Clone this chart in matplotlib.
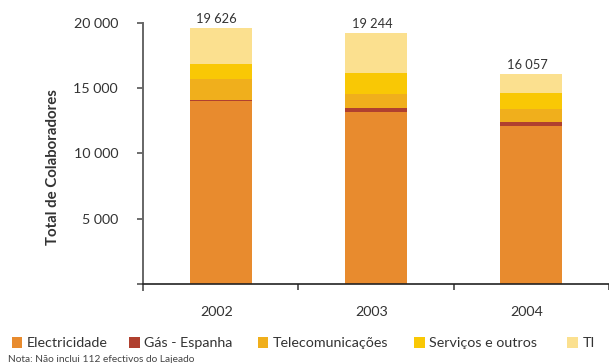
import matplotlib
matplotlib.use("Agg")
import matplotlib.pyplot as plt
from matplotlib.patches import Rectangle
import numpy as np

plt.rcParams['font.family'] = ['Lato', 'DejaVu Sans']

years = ["2002", "2003", "2004"]
totals = [19626, 19244, 16057]
electricidade = [14000, 13150, 12080]
gas_espanha = [80, 310, 310]
telecomunicacoes = [1610, 1080, 1030]
servicos_outros = [1160, 1610, 1230]
ti = [2776, 3094, 1407]

series = [
    ("Electricidade", electricidade, "#E88B2E"),
    ("Gás - Espanha", gas_espanha, "#B0402F"),
    ("Telecomunicações", telecomunicacoes, "#F0AF1C"),
    ("Serviços e outros", servicos_outros, "#F9C805"),
    ("TI", ti, "#FBE08F"),
]
yticks = [5000, 10000, 15000, 20000]
note = "Nota: Não inclui 112 efectivos do Lajeado"

W, H = 609, 363
fig = plt.figure(figsize=(W / 100, H / 100), dpi=100)

def fx(px):
    return px / W

def fy(py):
    return 1 - py / H

ax_left, ax_top, ax_bottom = 143, 22.7, 290
ax = fig.add_axes([fx(ax_left), fy(ax_bottom), 1 - fx(ax_left), (ax_bottom - ax_top) / H])

x = np.arange(len(years))
bottom = np.zeros(len(years))
for name, vals, color in series:
    ax.bar(x, vals, width=0.4, bottom=bottom, color=color, linewidth=0, label=name)
    bottom += np.array(vals)

for xi, tot in zip(x, totals):
    ax.annotate(f"{tot:,}".replace(",", " "), (xi, tot), xytext=(-3, 2),
                textcoords="offset points", ha="center", va="bottom",
                fontsize=9.3, color="#333333")

ax.set_xlim(-0.5, -0.5 + (W - ax_left) / 158)
ax.set_ylim(-460, 20000)

for s in ["top", "right"]:
    ax.spines[s].set_visible(False)
ax.spines["bottom"].set_position(("data", 0))
ax.spines["bottom"].set_color("#222222")
ax.spines["bottom"].set_linewidth(1.2)
ax.spines["left"].set_color("#666666")
ax.spines["left"].set_linewidth(1.4)
ax.spines["left"].set_bounds(-460, 20000)

ax.set_yticks([0] + yticks)
ax.set_yticklabels([""] + [f"{v:,}".replace(",", " ") for v in yticks],
                   fontsize=10.3, color="#333333")
ax.tick_params(axis="y", direction="out", length=4, width=1.2, color="#555555", pad=14)

ax.set_xticks([0.5, 1.5, 2.5])
ax.set_xticklabels([])
ax.tick_params(axis="x", direction="out", length=4.5, width=1.2, color="#444444")
for xi, yr in zip(x, years):
    ax.annotate(yr, (xi, 0), xytext=(-3, -20), textcoords="offset points",
                ha="center", va="center", fontsize=10.3, color="#333333",
                annotation_clip=False)

fig.text(fx(53), fy(167), "Total de Colaboradores", rotation=90, ha="center",
         va="center", fontsize=10.8, fontweight="bold", color="#333333")

# legend row along the bottom
legend_x = [11.7, 129.3, 257.7, 414.3, 567.3]
for (name, _, color), lx in zip(series, legend_x):
    fig.add_artist(Rectangle((fx(lx), fy(348.3)), fx(10.6), (348.3 - 337.3) / H,
                             transform=fig.transFigure, facecolor=color,
                             edgecolor="none"))
    fig.text(fx(lx + 15), fy(342.8), name, ha="left", va="center",
             fontsize=10.3, color="#333333")

fig.text(fx(8), fy(355.5), note, ha="left", va="top", fontsize=7.3, color="#444444")

fig.savefig("out.png", dpi=100)
